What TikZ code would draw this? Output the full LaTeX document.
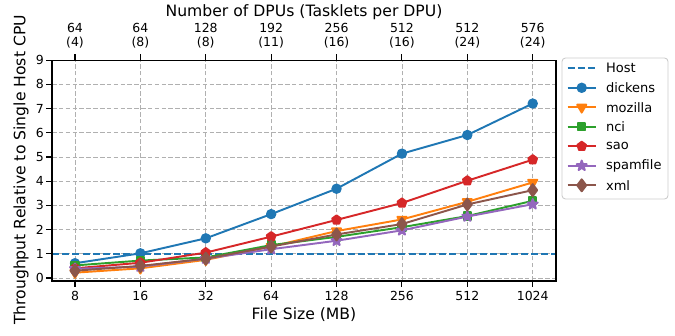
\documentclass[tikz,border=0pt]{standalone}
\usepackage{fontspec}
\setmainfont{DejaVu Sans}
\usetikzlibrary{plotmarks}
\definecolor{tabblue}{HTML}{1F77B4}
\definecolor{taborange}{HTML}{FF7F0E}
\definecolor{tabgreen}{HTML}{2CA02C}
\definecolor{tabred}{HTML}{D62728}
\definecolor{tabpurple}{HTML}{9467BD}
\definecolor{tabbrown}{HTML}{8C564B}
\definecolor{gridgrey}{HTML}{B0B0B0}
\definecolor{legendgrey}{HTML}{CCCCCC}
\pgfdeclareplotmark{fstar}{%
  \pgfpathmoveto{\pgfpointpolar{90}{\pgfplotmarksize}}%
  \pgfpathlineto{\pgfpointpolar{126}{0.4\pgfplotmarksize}}%
  \pgfpathlineto{\pgfpointpolar{162}{\pgfplotmarksize}}%
  \pgfpathlineto{\pgfpointpolar{198}{0.4\pgfplotmarksize}}%
  \pgfpathlineto{\pgfpointpolar{234}{\pgfplotmarksize}}%
  \pgfpathlineto{\pgfpointpolar{270}{0.4\pgfplotmarksize}}%
  \pgfpathlineto{\pgfpointpolar{306}{\pgfplotmarksize}}%
  \pgfpathlineto{\pgfpointpolar{342}{0.4\pgfplotmarksize}}%
  \pgfpathlineto{\pgfpointpolar{18}{\pgfplotmarksize}}%
  \pgfpathlineto{\pgfpointpolar{54}{0.4\pgfplotmarksize}}%
  \pgfpathclose
  \pgfusepathqfillstroke}
\tikzset{
  gridline/.style={draw=gridgrey, line width=0.45pt, dash pattern=on 2.6pt off 1.3pt},
  tickline/.style={line width=0.6pt},
  ticklabel/.style={font=\fontsize{7.1}{7.9}\selectfont, inner sep=0pt},
  axislabel/.style={font=\fontsize{8.9}{10}\selectfont, inner sep=0pt},
  legendlabel/.style={font=\fontsize{7.4}{8}\selectfont, inner sep=0pt, anchor=west},
  series/.style={line width=1.1pt, line join=round},
  host/.style={series, draw=tabblue, dash pattern=on 4pt off 1.8pt},
  dickens/.style={series, draw=tabblue, mark=*, mark size=2.4pt, mark options={solid, fill=tabblue}},
  mozilla/.style={series, draw=taborange, mark=triangle*, mark size=3pt, mark options={solid, fill=taborange, rotate=180}},
  nci/.style={series, draw=tabgreen, mark=square*, mark size=2.1pt, mark options={solid, fill=tabgreen}},
  sao/.style={series, draw=tabred, mark=pentagon*, mark size=2.6pt, mark options={solid, fill=tabred}},
  spamfile/.style={series, draw=tabpurple, mark=fstar, mark size=3pt, mark options={solid, fill=tabpurple}},
  xml/.style={series, draw=tabbrown, mark=diamond*, mark size=3.4pt, mark options={solid, fill=tabbrown}}
}
\begin{document}
\begin{tikzpicture}[x=0.02cm, y=0.02cm]
\useasboundingbox (0,0) rectangle (675,335);
\begin{scope}[shift={(75,57)}, x=1.308cm, y=0.484cm]
  \foreach \i in {0,...,7}
    \draw[gridline] (\i,-0.124) -- (\i,9);
  \foreach \v in {0,...,9}
    \draw[gridline] (-0.352,\v) -- (7.355,\v);
  \draw[host] (-0.352,1) -- (7.355,1);
  \draw[dickens] plot coordinates {(0,0.61) (1,1.02) (2,1.64) (3,2.64) (4,3.69) (5,5.14) (6,5.91) (7,7.21)};
  \draw[mozilla] plot coordinates {(0,0.22) (1,0.40) (2,0.75) (3,1.30) (4,1.94) (5,2.42) (6,3.15) (7,3.95)};
  \draw[nci] plot coordinates {(0,0.52) (1,0.72) (2,0.85) (3,1.36) (4,1.70) (5,2.10) (6,2.56) (7,3.19)};
  \draw[sao] plot coordinates {(0,0.40) (1,0.63) (2,1.05) (3,1.71) (4,2.40) (5,3.10) (6,4.02) (7,4.89)};
  \draw[spamfile] plot coordinates {(0,0.38) (1,0.47) (2,0.80) (3,1.19) (4,1.54) (5,1.97) (6,2.54) (7,3.05)};
  \draw[xml] plot coordinates {(0,0.30) (1,0.50) (2,0.80) (3,1.30) (4,1.80) (5,2.23) (6,3.04) (7,3.63)};
  \draw[line width=0.7pt] (-0.352,-0.124) rectangle (7.355,9);
  \foreach \i/\s in {0/8,1/16,2/32,3/64,4/128,5/256,6/512,7/1024} {
    \draw[tickline] (\i,-0.124) -- ++(0,-3.5pt);
    \draw[tickline] (\i,9) -- ++(0,3.5pt);
    \node[ticklabel] (xl\i) at (\i,-0.744) {\s};
  }
  \foreach \i/\d/\t in {0/64/4,1/64/8,2/128/8,3/192/11,4/256/16,5/512/16,6/512/24,7/576/24}
    \node[ticklabel, align=center] (tl\i) at (\i,10.0) {\d\\(\t)};
  \foreach \v in {0,...,9} {
    \draw[tickline] (-0.352,\v) -- ++(-3.5pt,0);
    \node[ticklabel, anchor=east] (yl\v) at (-0.472,\v) {\v};
  }
\end{scope}
\node[axislabel] (xlabel) at (304,20) {File Size (MB)};
\node[axislabel] (toplabel) at (304,322.5) {Number of DPUs (Tasklets per DPU)};
\node[axislabel, rotate=90] (ylabel) at (21,165) {Throughput Relative to Single Host CPU};
\draw[legendgrey, fill=white, fill opacity=0.8, line width=0.5pt, rounded corners=2pt] (562,136) rectangle (668,277);
\draw[host] (567.7,266.7) -- (595.7,266.7);
\node[legendlabel] (lhost) at (605.7,266.7) {Host};
\draw[dickens] (567.7,247.2) -- (595.7,247.2);
\draw[dickens] plot coordinates {(581.7,247.2)};
\node[legendlabel] (ldickens) at (605.7,247.2) {dickens};
\draw[mozilla] (567.7,227.7) -- (595.7,227.7);
\draw[mozilla] plot coordinates {(581.7,227.7)};
\node[legendlabel] (lmozilla) at (605.7,227.7) {mozilla};
\draw[nci] (567.7,208.2) -- (595.7,208.2);
\draw[nci] plot coordinates {(581.7,208.2)};
\node[legendlabel] (lnci) at (605.7,208.2) {nci};
\draw[sao] (567.7,188.7) -- (595.7,188.7);
\draw[sao] plot coordinates {(581.7,188.7)};
\node[legendlabel] (lsao) at (605.7,188.7) {sao};
\draw[spamfile] (567.7,169.2) -- (595.7,169.2);
\draw[spamfile] plot coordinates {(581.7,169.2)};
\node[legendlabel] (lspamfile) at (605.7,169.2) {spamfile};
\draw[xml] (567.7,149.7) -- (595.7,149.7);
\draw[xml] plot coordinates {(581.7,149.7)};
\node[legendlabel] (lxml) at (605.7,149.7) {xml};
\end{tikzpicture}
\end{document}
